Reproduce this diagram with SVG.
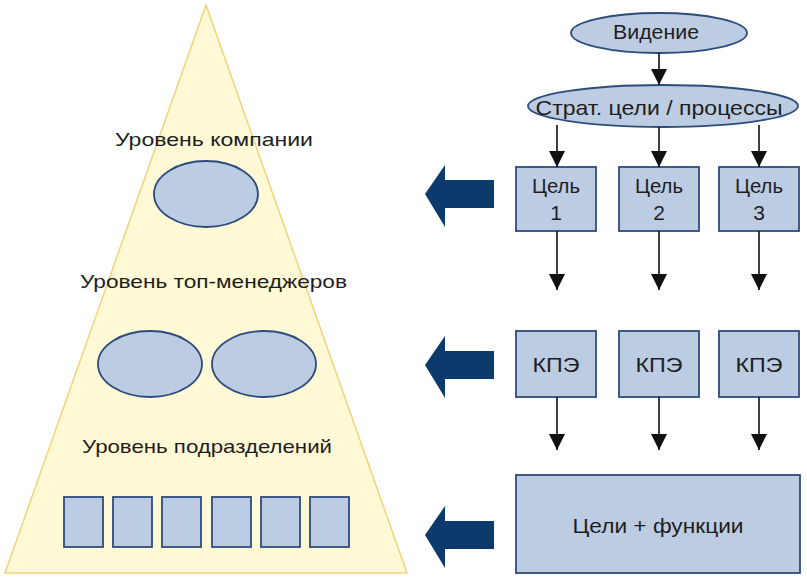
<svg xmlns="http://www.w3.org/2000/svg" width="807" height="577" viewBox="0 0 807 577">
<defs>
<style>
.tri{fill:#FFF9D6;stroke:#F2D27C;stroke-width:1.5}
.shape{fill:#BCCCE3;stroke:#2D4C7C;stroke-width:1.8}
.lbl{font-family:"Liberation Sans",Arial,sans-serif;font-size:18.5px;fill:#1e1e1e}
.box{font-family:"Liberation Sans",Arial,sans-serif;font-size:21px;fill:#1e1e1e;text-anchor:middle}
.conn{stroke:#111;stroke-width:1.6;fill:none;marker-end:url(#ah)}
.big{fill:#0C3A6D}
</style>
<marker id="ah" markerWidth="16" markerHeight="16" viewBox="0 0 16 16" refX="16" refY="8" orient="auto" markerUnits="userSpaceOnUse">
<path d="M0,0 L16,8 L0,16 Z" fill="#111"/>
</marker>
</defs>
<rect width="807" height="577" fill="#ffffff"/>

<g id="pyramid">
<polygon class="tri" points="206,5 5,573 407,573"/>
</g>
<g id="level-company">
<text class="lbl" x="115" y="146" textLength="198" lengthAdjust="spacingAndGlyphs">Уровень компании</text>
<ellipse class="shape" cx="206" cy="194" rx="52" ry="33"/>
</g>
<g id="level-top">
<text class="lbl" x="80" y="288" textLength="267" lengthAdjust="spacingAndGlyphs">Уровень топ-менеджеров</text>
<ellipse class="shape" cx="150" cy="364" rx="52" ry="33"/>
<ellipse class="shape" cx="264" cy="364" rx="52" ry="33"/>
</g>
<g id="level-dept">
<text class="lbl" x="82" y="453" textLength="250" lengthAdjust="spacingAndGlyphs">Уровень подразделений</text>
<rect class="shape" x="64" y="497" width="39" height="50"/>
<rect class="shape" x="113" y="497" width="39" height="50"/>
<rect class="shape" x="162" y="497" width="39" height="50"/>
<rect class="shape" x="212" y="497" width="39" height="50"/>
<rect class="shape" x="261" y="497" width="39" height="50"/>
<rect class="shape" x="310" y="497" width="39" height="50"/>
</g>

<g id="vision">
<ellipse class="shape" cx="659" cy="33" rx="88" ry="20"/>
<text class="box" x="656" y="39" font-size="18.5" textLength="86" lengthAdjust="spacingAndGlyphs">Видение</text>
</g>
<g id="strat">
<ellipse class="shape" cx="663" cy="106" rx="135" ry="21"/>
<text class="box" x="659" y="115" font-size="18.5" textLength="247" lengthAdjust="spacingAndGlyphs">Страт. цели / процессы</text>
</g>
<g id="goal1">
<rect class="shape" x="516" y="167" width="80" height="64"/>
<text class="box" x="556" y="193" textLength="48" lengthAdjust="spacingAndGlyphs">Цель</text>
<text class="box" x="556" y="220">1</text>
</g>
<g id="goal2">
<rect class="shape" x="619" y="167" width="80" height="64"/>
<text class="box" x="659" y="193" textLength="48" lengthAdjust="spacingAndGlyphs">Цель</text>
<text class="box" x="659" y="220">2</text>
</g>
<g id="goal3">
<rect class="shape" x="719" y="167" width="80" height="64"/>
<text class="box" x="759" y="193" textLength="48" lengthAdjust="spacingAndGlyphs">Цель</text>
<text class="box" x="759" y="220">3</text>
</g>
<g id="kpi1">
<rect class="shape" x="516" y="331" width="80" height="66"/>
<text class="box" x="556" y="372" textLength="47" lengthAdjust="spacingAndGlyphs">КПЭ</text>
</g>
<g id="kpi2">
<rect class="shape" x="619" y="331" width="80" height="66"/>
<text class="box" x="659" y="372" textLength="47" lengthAdjust="spacingAndGlyphs">КПЭ</text>
</g>
<g id="kpi3">
<rect class="shape" x="719" y="331" width="80" height="66"/>
<text class="box" x="759" y="372" textLength="47" lengthAdjust="spacingAndGlyphs">КПЭ</text>
</g>
<g id="functions">
<rect class="shape" x="516" y="475" width="284" height="98"/>
<text class="box" x="658" y="533" font-size="19.5" textLength="171" lengthAdjust="spacingAndGlyphs">Цели + функции</text>
</g>

<g id="connectors">
<path class="conn" d="M659,53 V85"/>
<path class="conn" d="M557,125 V167"/>
<path class="conn" d="M659,127 V167"/>
<path class="conn" d="M759,125 V167"/>
<path class="conn" d="M557,231 V290"/>
<path class="conn" d="M659,231 V290"/>
<path class="conn" d="M759,231 V290"/>
<path class="conn" d="M557,397 V450"/>
<path class="conn" d="M659,397 V450"/>
<path class="conn" d="M759,397 V450"/>
<path class="big" d="M425,194 L445,165 L445,180 L494,180 L494,208 L445,208 L445,227 Z"/>
<path class="big" d="M425,365 L445,336 L445,351 L494,351 L494,379 L445,379 L445,398 Z"/>
<path class="big" d="M425,535 L445,506 L445,521 L494,521 L494,549 L445,549 L445,568 Z"/>
</g>
</svg>
